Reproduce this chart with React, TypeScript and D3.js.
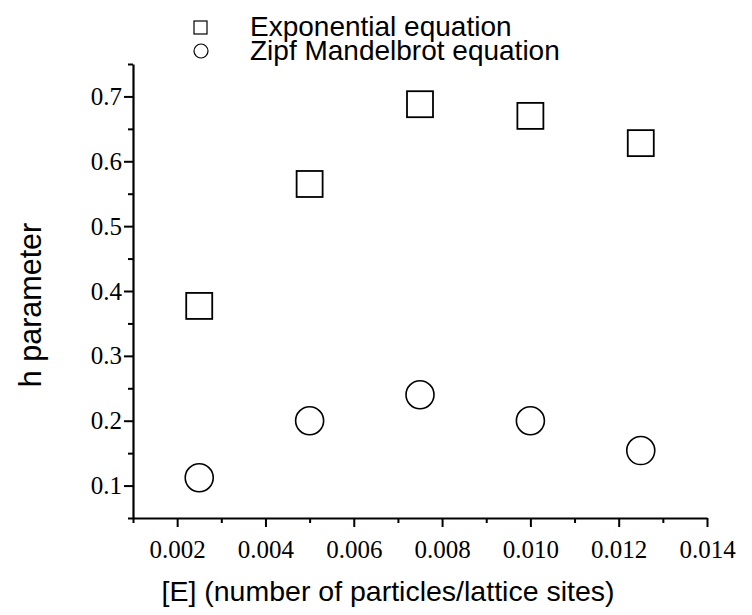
import { useEffect, useRef } from "react";
import * as d3 from "d3";

// E concentration (particles / lattice sites)
const concentrations = [0.0025, 0.005, 0.0075, 0.01, 0.0125];
// h parameter from the two fits
const exponentialH = [0.377, 0.565, 0.688, 0.67, 0.628];
const zipfH = [0.112, 0.2, 0.24, 0.2, 0.154];

const xTicks = [0.002, 0.004, 0.006, 0.008, 0.01, 0.012, 0.014];
const xMinorTicks = [0.001, 0.003, 0.005, 0.007, 0.009, 0.011, 0.013];
const yTicks = [0.1, 0.2, 0.3, 0.4, 0.5, 0.6, 0.7];
const yMinorTicks = [0.05, 0.15, 0.25, 0.35, 0.45, 0.55, 0.65, 0.75];

const seriesNames = ["Exponential equation", "Zipf Mandelbrot equation"];

const SERIF = "'Liberation Serif', 'Times New Roman', serif";
const SANS = "'Liberation Sans', Arial, sans-serif";

export default function App() {
  const ref = useRef<SVGSVGElement | null>(null);

  useEffect(() => {
    const width = 752;
    const height = 615;
    const margin = { top: 64, right: 45, bottom: 97, left: 133 };

    const svg = d3.select(ref.current);
    svg.selectAll("*").remove();

    const x = d3
      .scaleLinear()
      .domain([0.001, 0.014])
      .range([margin.left, width - margin.right]);
    const y = d3
      .scaleLinear()
      .domain([0.05, 0.75])
      .range([height - margin.bottom, margin.top]);

    const y0 = height - margin.bottom;

    // minor ticks first
    svg
      .append("g")
      .attr("transform", `translate(0,${y0})`)
      .call(d3.axisBottom(x).tickValues(xMinorTicks).tickSize(5).tickSizeOuter(0).tickFormat(() => ""))
      .call((g) => g.select(".domain").remove())
      .selectAll("line")
      .attr("stroke", "#000")
      .attr("stroke-width", 2);

    svg
      .append("g")
      .attr("transform", `translate(${margin.left},0)`)
      .call(d3.axisLeft(y).tickValues(yMinorTicks).tickSize(5).tickSizeOuter(0).tickFormat(() => ""))
      .call((g) => g.select(".domain").remove())
      .selectAll("line")
      .attr("stroke", "#000")
      .attr("stroke-width", 2);

    // major x axis
    const xg = svg
      .append("g")
      .attr("transform", `translate(0,${y0})`)
      .call(
        d3
          .axisBottom(x)
          .tickValues(xTicks)
          .tickSize(9)
          .tickSizeOuter(0)
          .tickPadding(13)
          .tickFormat(d3.format(".3f") as any)
      );
    xg.select(".domain").attr("stroke-width", 2.2);
    xg.selectAll("line").attr("stroke-width", 2);
    xg.selectAll("text")
      .style("font-family", SERIF)
      .style("font-size", "25px")
      .attr("fill", "#000");

    // major y axis
    const yg = svg
      .append("g")
      .attr("transform", `translate(${margin.left},0)`)
      .call(
        d3
          .axisLeft(y)
          .tickValues(yTicks)
          .tickSize(9)
          .tickSizeOuter(0)
          .tickPadding(2)
          .tickFormat(d3.format(".1f") as any)
      );
    yg.select(".domain").attr("stroke-width", 2.2);
    yg.selectAll("line").attr("stroke-width", 2);
    yg.selectAll("text")
      .style("font-family", SERIF)
      .style("font-size", "25px")
      .attr("fill", "#000");

    // axis titles
    svg
      .append("text")
      .attr("x", 388)
      .attr("y", 601)
      .attr("text-anchor", "middle")
      .style("font-family", SANS)
      .style("font-size", "28.5px")
      .text("[E] (number of particles/lattice sites)");

    svg
      .append("text")
      .attr("transform", `translate(41,${305}) rotate(-90)`)
      .attr("text-anchor", "middle")
      .style("font-family", SANS)
      .style("font-size", "30.5px")
      .text("h parameter");

    // markers
    const pts = concentrations.map((c, i) => ({ c, e: exponentialH[i], z: zipfH[i] }));
    const sq = 26;
    svg
      .append("g")
      .selectAll("rect")
      .data(pts)
      .enter()
      .append("rect")
      .attr("x", (d) => x(d.c) - sq / 2)
      .attr("y", (d) => y(d.e) - sq / 2)
      .attr("width", sq)
      .attr("height", sq)
      .attr("fill", "none")
      .attr("stroke", "#000")
      .attr("stroke-width", 1.8);

    svg
      .append("g")
      .selectAll("circle")
      .data(pts)
      .enter()
      .append("circle")
      .attr("cx", (d) => x(d.c))
      .attr("cy", (d) => y(d.z))
      .attr("r", 14)
      .attr("fill", "none")
      .attr("stroke", "#000")
      .attr("stroke-width", 1.6);

    // legend
    const legend = svg.append("g");
    legend
      .append("rect")
      .attr("x", 194)
      .attr("y", 21)
      .attr("width", 13)
      .attr("height", 13)
      .attr("fill", "none")
      .attr("stroke", "#000")
      .attr("stroke-width", 1.2);
    legend
      .append("circle")
      .attr("cx", 201)
      .attr("cy", 51)
      .attr("r", 7)
      .attr("fill", "none")
      .attr("stroke", "#000")
      .attr("stroke-width", 1.2);
    legend
      .selectAll("text")
      .data(seriesNames)
      .enter()
      .append("text")
      .attr("x", 250)
      .attr("y", (_, i) => 36 + i * 24)
      .style("font-family", SANS)
      .style("font-size", "28px")
      .text((d) => d);
  }, []);

  return (
    <svg
      ref={ref}
      width={752}
      height={615}
      style={{ position: "absolute", left: 0, top: 0, background: "#fff" }}
    />
  );
}
